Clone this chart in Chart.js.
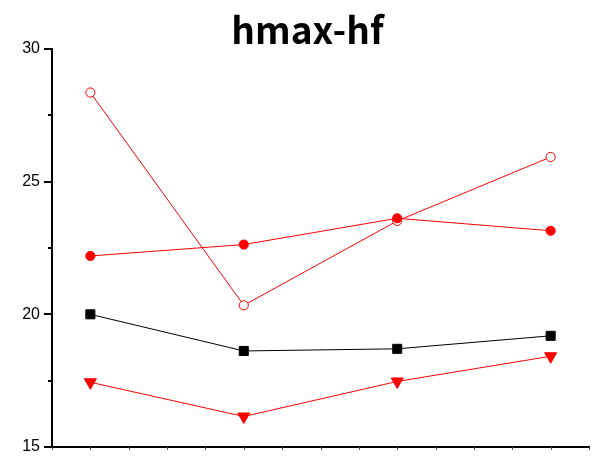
<!DOCTYPE html>
<html>
<head>
<meta charset="utf-8">
<script src="https://cdn.jsdelivr.net/npm/chart.js@4.4.0/dist/chart.umd.min.js"></script>
<style>
    html, body { margin: 0; padding: 0; background: #fff; }
    #wrap { width: 597px; height: 462px; }
</style>
</head>
<body>
<div id="wrap"><canvas id="hmaxChart" width="597" height="462"></canvas></div>
<script>
const chartTitle = 'hmax-hf';
const positions = [1, 2, 3, 4];
const openCircle = [28.36, 20.34, 23.52, 25.93];
const filledCircle = [22.2, 22.63, 23.62, 23.15];
const squares = [20.0, 18.62, 18.70, 19.19];
const triangles = [17.44, 16.15, 17.47, 18.42];
const yTicks = [15, 20, 25, 30];

const toPoints = vals => vals.map((v, i) => ({ x: positions[i], y: v }));

// short tick marks outside the axes (major / minor lengths differ)
const tickMarks = {
    id: 'tickMarks',
    afterDraw(chart) {
        const ctx = chart.ctx;
        const x = chart.scales.x, y = chart.scales.y;
        ctx.save();
        ctx.strokeStyle = '#000';
        ctx.lineWidth = 2;
        y.ticks.forEach(t => {
            const py = Math.round(y.getPixelForValue(t.value));
            const len = yTicks.includes(t.value) ? 8 : 4;
            ctx.beginPath();
            ctx.moveTo(x.left - len, py);
            ctx.lineTo(x.left, py);
            ctx.stroke();
        });
        ctx.strokeStyle = '#555';
        ctx.lineWidth = 1;
        x.ticks.forEach(t => {
            const px = Math.round(x.getPixelForValue(t.value)) + 0.5;
            ctx.beginPath();
            ctx.moveTo(px, y.bottom);
            ctx.lineTo(px, y.bottom + 3);
            ctx.stroke();
        });
        // heading
        ctx.fillStyle = '#000';
        ctx.font = 'bold 37px "Noto Sans CJK KR", "Noto Sans", sans-serif';
        ctx.textAlign = 'center';
        ctx.textBaseline = 'alphabetic';
        ctx.fillText(chartTitle, 307.5, 44);
        ctx.restore();
    }
};

const ctx = document.getElementById('hmaxChart').getContext('2d');
new Chart(ctx, {
    type: 'line',
    data: {
        datasets: [
            {
                data: toPoints(triangles),
                borderColor: '#ff0000',
                backgroundColor: '#ff0000',
                borderWidth: 1,
                pointStyle: 'triangle',
                rotation: 180,
                pointRadius: 7,
                pointBorderWidth: 1
            },
            {
                data: toPoints(squares),
                borderColor: '#000000',
                backgroundColor: '#000000',
                borderWidth: 1,
                pointStyle: 'rect',
                pointRadius: 6.4,
                pointBorderWidth: 1
            },
            {
                data: toPoints(filledCircle),
                borderColor: '#ff0000',
                backgroundColor: '#ff0000',
                borderWidth: 1,
                pointStyle: 'circle',
                pointRadius: 4.6,
                pointBorderWidth: 1
            },
            {
                data: toPoints(openCircle),
                borderColor: '#ff0000',
                backgroundColor: '#ffffff',
                borderWidth: 1,
                pointStyle: 'circle',
                pointRadius: 4.6,
                pointBorderWidth: 1
            }
        ]
    },
    options: {
        responsive: false,
        animation: false,
        layout: { padding: { top: 49, right: 3 } },
        plugins: {
            legend: { display: false },
            tooltip: { enabled: false },
            title: { display: false }
        },
        scales: {
            x: {
                type: 'linear',
                min: 0.75,
                max: 4.25,
                ticks: { stepSize: 0.25, display: false },
                grid: { drawOnChartArea: false, drawTicks: false },
                border: { display: true, color: '#000', width: 2 },
                afterFit: s => { s.height = 15; }
            },
            y: {
                min: 15,
                max: 30,
                ticks: {
                    stepSize: 2.5,
                    padding: 12,
                    color: '#000',
                    font: { family: '"Liberation Sans", Arial, sans-serif', size: 16 },
                    callback: v => yTicks.includes(v) ? v : ''
                },
                grid: { drawOnChartArea: false, drawTicks: false },
                border: { display: true, color: '#000', width: 2 },
                afterFit: s => {
                    s.width = 52;
                    s.paddingTop = 0;
                    s.paddingBottom = 0;
                }
            }
        }
    },
    plugins: [tickMarks]
});
</script>
</body>
</html>
